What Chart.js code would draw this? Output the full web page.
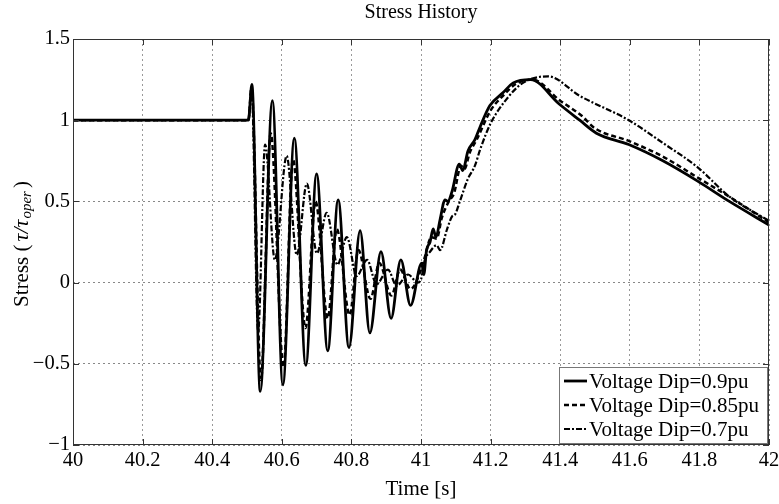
<!DOCTYPE html>
<html>
<head>
<meta charset="utf-8">
<script src="https://cdn.jsdelivr.net/npm/chart.js@4.4.1/dist/chart.umd.min.js"></script>
<style>
html,body{margin:0;padding:0;background:#fff;}
#wrap{width:779px;height:504px;}
</style>
</head>
<body>
<div id="wrap"><canvas id="chStress" width="779" height="504"></canvas></div>
<script>
// series labels
var seriesLabels = ['Voltage Dip=0.9pu', 'Voltage Dip=0.85pu', 'Voltage Dip=0.7pu'];

// 0.9pu (solid)
var time90 = [40, 40.504, 40.514, 40.538, 40.573, 40.603, 40.636, 40.669, 40.700, 40.732, 40.762, 40.793,
  40.825, 40.853, 40.885, 40.914, 40.942, 40.970, 41.002, 41.008, 41.016, 41.026, 41.035, 41.043, 41.055,
  41.069, 41.077, 41.089, 41.110, 41.120, 41.135, 41.155, 41.170, 41.198, 41.236, 41.265, 41.315, 41.397,
  41.456, 41.504, 41.597, 41.695, 41.795, 41.886, 42.0];
var stress90 = [1, 1, 1.22, -0.67, 1.12, -0.63, 0.89, -0.51, 0.67, -0.42, 0.51, -0.40,
  0.32, -0.31, 0.19, -0.22, 0.14, -0.14, 0.12, 0.05, 0.20, 0.25, 0.33, 0.28, 0.39,
  0.51, 0.50, 0.56, 0.73, 0.69, 0.81, 0.88, 0.96, 1.09, 1.17, 1.23, 1.25, 1.10,
  1.00, 0.92, 0.85, 0.75, 0.625, 0.50, 0.355];

// 0.85pu (dashed)
var time85 = [40, 40.504, 40.513, 40.540, 40.568, 40.605, 40.632, 40.668, 40.697, 40.732, 40.758, 40.795,
  40.820, 40.855, 40.880, 40.915, 40.940, 40.970, 41.000, 41.010, 41.030, 41.045, 41.060, 41.080, 41.095,
  41.115, 41.125, 41.140, 41.160, 41.200, 41.240, 41.270, 41.320, 41.400, 41.460, 41.500, 41.600, 41.700,
  41.800, 41.900, 42.0];
var stress85 = [1, 1, 1.20, -0.60, 0.92, -0.52, 0.76, -0.28, 0.50, -0.22, 0.33, -0.20,
  0.20, -0.10, 0.12, -0.08, 0.08, -0.04, 0.08, 0.15, 0.28, 0.27, 0.40, 0.50, 0.55,
  0.72, 0.70, 0.80, 0.88, 1.06, 1.16, 1.22, 1.25, 1.12, 1.03, 0.95, 0.87, 0.77,
  0.64, 0.51, 0.37];

// 0.7pu (dash-dot)
var time70 = [40, 40.504, 40.513, 40.532, 40.552, 40.580, 40.614, 40.643, 40.672, 40.701, 40.729, 40.760,
  40.787, 40.815, 40.845, 40.872, 40.905, 40.930, 40.963, 40.990, 41.000, 41.011, 41.026, 41.045, 41.055,
  41.075, 41.090, 41.098, 41.110, 41.135, 41.155, 41.170, 41.200, 41.246, 41.293, 41.365, 41.456, 41.597,
  41.695, 41.795, 41.886, 42.0];
var stress70 = [1, 1, 1.20, -0.30, 0.85, 0.14, 0.78, 0.17, 0.61, 0.18, 0.43, 0.11,
  0.28, 0.04, 0.14, -0.01, 0.08, -0.02, 0.05, 0.00, 0.02, 0.14, 0.19, 0.23, 0.20,
  0.33, 0.41, 0.42, 0.49, 0.64, 0.72, 0.82, 0.98, 1.13, 1.23, 1.27, 1.15, 1.00,
  0.86, 0.71, 0.53, 0.38];

var xTickMin = 40, xTickMax = 42, xTickStep = 0.2;
var yTickMin = -1, yTickMax = 1.5, yTickStep = 0.5;

var serif = "'Liberation Serif', 'Times New Roman', serif";

function toPoints(xs, ys) {
    return xs.map(function(x, i){ return {x: x, y: ys[i]}; });
}

// box, inner ticks, y title and legend (matlab look)
var matlabFrame = {
    id: 'matlabFrame',
    afterDatasetsDraw: function(chart) {
        var ctx = chart.ctx, a = chart.chartArea;
        var xs = chart.scales.x, ys = chart.scales.y;
        ctx.save();
        ctx.strokeStyle = '#333';
        ctx.lineWidth = 1;
        ctx.strokeRect(a.left + 0.5, a.top + 0.5, a.right - a.left - 1, a.bottom - a.top - 1);
        ctx.beginPath();
        xs.ticks.forEach(function(t){
            var px = Math.round(xs.getPixelForValue(t.value)) + 0.5;
            ctx.moveTo(px, a.bottom); ctx.lineTo(px, a.bottom - 6);
            ctx.moveTo(px, a.top); ctx.lineTo(px, a.top + 6);
        });
        ys.ticks.forEach(function(t){
            var py = Math.round(ys.getPixelForValue(t.value)) + 0.5;
            ctx.moveTo(a.left, py); ctx.lineTo(a.left + 6, py);
            ctx.moveTo(a.right, py); ctx.lineTo(a.right - 6, py);
        });
        ctx.stroke();
        ctx.restore();
    },
    afterDraw: function(chart) {
        var ctx = chart.ctx, a = chart.chartArea;
        // y axis title: Stress (tau/tau_oper)
        ctx.save();
        ctx.translate(22, (a.top + a.bottom) / 2 + 2);
        ctx.rotate(-Math.PI / 2);
        ctx.fillStyle = '#000';
        ctx.textBaseline = 'middle';
        var parts = [
            {t: 'Stress (', f: '21px ' + serif, dy: 0, gap: 3},
            {t: '\u03c4/\u03c4', f: 'italic 22px ' + serif, dy: 0, gap: 1},
            {t: 'oper', f: 'italic 15px ' + serif, dy: 5, gap: 3},
            {t: ')', f: '21px ' + serif, dy: 0, gap: 0}
        ];
        var total = 0;
        parts.forEach(function(p){ ctx.font = p.f; p.w = ctx.measureText(p.t).width; total += p.w + p.gap; });
        var x = -total / 2;
        parts.forEach(function(p){ ctx.font = p.f; ctx.fillText(p.t, x, p.dy); x += p.w + p.gap; });
        ctx.restore();

        // legend inside the lower right corner
        var ds = chart.data.datasets;
        var bw = 208, rowH = 24, bh = rowH * ds.length + 4;
        var bx = a.right - bw - 2, by = a.bottom - bh - 2;
        ctx.save();
        ctx.fillStyle = '#fff';
        ctx.fillRect(bx, by, bw, bh);
        ctx.strokeStyle = '#777';
        ctx.lineWidth = 1;
        ctx.strokeRect(bx + 0.5, by + 0.5, bw, bh);
        ctx.font = '21px ' + serif;
        ctx.textBaseline = 'middle';
        ds.forEach(function(d, i){
            var cy = by + 2 + rowH * i + rowH / 2;
            ctx.strokeStyle = '#000';
            ctx.lineWidth = d.borderWidth;
            ctx.setLineDash(d.borderDash || []);
            ctx.beginPath();
            ctx.moveTo(bx + 5, cy); ctx.lineTo(bx + 28, cy);
            ctx.stroke();
            ctx.setLineDash([]);
            ctx.fillStyle = '#000';
            ctx.fillText(d.label, bx + 30, cy + 1);
        });
        ctx.restore();
    }
};

var chStress = new Chart(document.getElementById('chStress'), {
    type: 'scatter',
    data: {
        datasets: [
            {label: seriesLabels[0], data: toPoints(time90, stress90), borderColor: '#000', borderWidth: 2.8, borderDash: []},
            {label: seriesLabels[1], data: toPoints(time85, stress85), borderColor: '#000', borderWidth: 2.5, borderDash: [5, 3]},
            {label: seriesLabels[2], data: toPoints(time70, stress70), borderColor: '#000', borderWidth: 2.2, borderDash: [6, 2, 2, 2]}
        ]
    },
    options: {
        responsive: false,
        animation: false,
        devicePixelRatio: 1,
        showLine: true,
        elements: {
            point: {radius: 0, hoverRadius: 0},
            line: {cubicInterpolationMode: 'monotone', fill: false}
        },
        layout: {padding: {left: 0, right: 10, top: 0, bottom: 0}},
        plugins: {
            legend: {display: false},
            tooltip: {enabled: false},
            title: {
                display: true,
                text: 'Stress History',
                color: '#000',
                fullSize: false,
                font: {family: serif, size: 20, weight: 'normal'},
                padding: {top: 1, bottom: 14}
            }
        },
        scales: {
            x: {
                type: 'linear',
                min: xTickMin, max: xTickMax,
                afterFit: function(scale){ scale.height = 59; scale.paddingLeft = 0; scale.paddingRight = 0; },
                ticks: {stepSize: xTickStep, color: '#000', padding: 3, maxRotation: 0,
                    font: {family: serif, size: 20.5},
                    callback: function(v){ return String(Math.round(v * 10) / 10); }},
                grid: {color: '#999', drawTicks: false, lineWidth: 1},
                border: {display: false, dash: [2, 3]},
                title: {display: true, text: 'Time [s]', color: '#000', padding: {top: 0, bottom: 2},
                    font: {family: serif, size: 21}}
            },
            y: {
                type: 'linear',
                min: yTickMin, max: yTickMax,
                afterFit: function(scale){ scale.width = 73; scale.paddingTop = 0; scale.paddingBottom = 0; },
                ticks: {stepSize: yTickStep, color: '#000', padding: 3,
                    font: {family: serif, size: 20.5},
                    callback: function(v){ return String(v).replace('-', '\u2212'); }},
                grid: {color: '#888', drawTicks: false, lineWidth: 1},
                border: {display: false, dash: [2, 3]},
                title: {display: false}
            }
        }
    },
    plugins: [matlabFrame]
});
</script>
</body>
</html>
